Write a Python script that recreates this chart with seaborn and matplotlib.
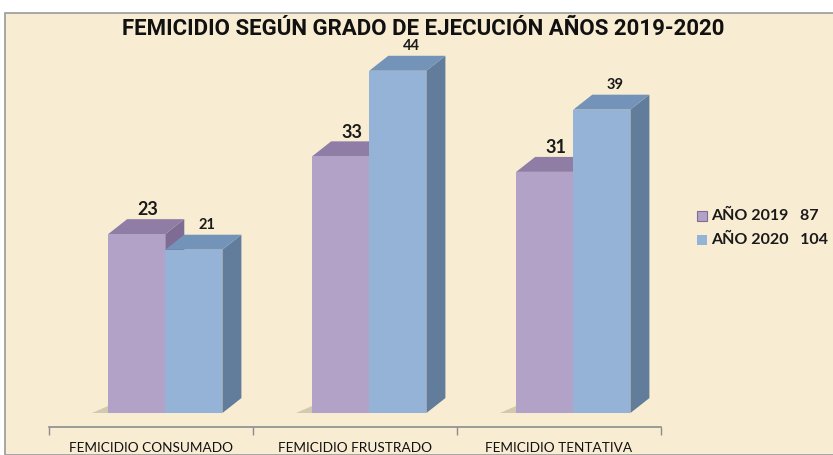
import numpy as np
import pandas as pd
import seaborn as sns
import matplotlib.pyplot as plt
from matplotlib.patches import Polygon, Rectangle

# data
categories = ['FEMICIDIO CONSUMADO', 'FEMICIDIO FRUSTRADO', 'FEMICIDIO TENTATIVA']
years = ['AÑO 2019', 'AÑO 2020']
values_2019 = [23, 33, 31]
values_2020 = [21, 44, 39]

front = {'AÑO 2019': '#B3A2C7', 'AÑO 2020': '#95B3D7'}
topc = {'AÑO 2019': '#8F7DA5', 'AÑO 2020': '#7393B8'}
sidec = {'AÑO 2019': '#7E6C94', 'AÑO 2020': '#627C9C'}
bg = '#F8EDD3'

df = pd.DataFrame({
    'cat': categories * 2,
    'year': [years[0]] * 3 + [years[1]] * 3,
    'val': values_2019 + values_2020,
})

sns.set_theme(style='white')
plt.rcParams['font.family'] = ['Lato', 'DejaVu Sans']

fig = plt.figure(figsize=(8.33, 4.55), dpi=100)
fig.patch.set_facecolor('white')
fig.patches.append(Rectangle((5 / 833, 0), 1, 1 - 13 / 455, transform=fig.transFigure,
                             facecolor=bg, edgecolor='#9A9A9A', lw=1.2, zorder=-5))

ax = fig.add_axes([49 / 833, 1 - 427 / 455, 612 / 833, (427 - 45) / 455])
ax.set_facecolor('none')
sns.barplot(data=df, x='cat', y='val', hue='year', hue_order=years,
            palette=front, width=0.56, saturation=1, ax=ax, legend=False,
            edgecolor='none', linewidth=0, zorder=3)

ax.set_xlim(-0.5, 2.5)
ax.set_ylim(-14 / 7.8, (414 - 45) / 7.8)

# depth in data units (about 19 px right, 15 px up)
dx = 19 / 204
dy = 15 / 7.8
shift = 0.07

for i, yr in enumerate(years):
    cont = ax.containers[i]
    vals = values_2019 if i == 0 else values_2020
    for bar, v in zip(cont, vals):
        bar.set_x(bar.get_x() + shift)
        x0, w, h = bar.get_x(), bar.get_width(), bar.get_height()
        x1 = x0 + w
        ax.add_patch(Polygon([(x0, h), (x1, h), (x1 + dx, h + dy), (x0 + dx, h + dy)],
                             closed=True, facecolor=topc[yr], edgecolor='none', zorder=2.9))
        ax.add_patch(Polygon([(x1, 0), (x1 + dx, dy), (x1 + dx, h + dy), (x1, h)],
                             closed=True, facecolor=sidec[yr], edgecolor='none', zorder=2.8))
        if i == 0:
            ax.text(x0 + w / 2 + dx * 0.6, h + dy + 0.1, str(v), ha='center', va='bottom',
                    fontsize=13, fontweight='bold', color='#1a1a1a', zorder=5)
            # soft shadow at the foot of the bar
            ax.add_patch(Polygon([(x0 - 0.08, 0), (x0, 0), (x0, 0.9)], closed=True,
                                 facecolor='#8E8674', edgecolor='none', alpha=0.35, zorder=2))
        else:
            ax.text(x0 + w / 2 + dx * 0.7, h + dy + 0.3, str(v), ha='center', va='bottom',
                    fontsize=10.5, fontweight='bold', color='#1a1a1a', zorder=5)

for s in ['top', 'right', 'left']:
    ax.spines[s].set_visible(False)
ax.spines['bottom'].set_color('#8C8C8C')
ax.spines['bottom'].set_linewidth(1.2)
ax.set_yticks([])
ax.set_xticks([-0.5, 0.5, 1.5, 2.5])
ax.set_xticklabels([])
ax.set_xticks([0, 1, 2], minor=True)
ax.set_xticklabels(categories, minor=True, fontsize=9.8, color='#111111')
ax.tick_params(axis='x', which='major', direction='out', length=6, width=1, color='#8C8C8C', bottom=True)
ax.tick_params(axis='x', which='minor', length=0, pad=11)
ax.set_xlabel('')
ax.set_ylabel('')

fig.text(423 / 833, 1 - 29 / 455, 'FEMICIDIO SEGÚN GRADO DE EJECUCIÓN AÑOS 2019-2020',
         ha='center', va='center', fontsize=16, fontweight='bold', color='#111111',
         family=['Liberation Sans Narrow', 'Roboto', 'DejaVu Sans'])

totals = [sum(values_2019), sum(values_2020)]
for k, (yr, tot) in enumerate(zip(years, totals)):
    yy = 1 - (216 + 24 * k) / 455
    fig.patches.append(Rectangle((697 / 833, yy - 5 / 455), 10 / 833, 10 / 455, transform=fig.transFigure,
                                 facecolor=front[yr], edgecolor=sidec[yr] if k == 0 else 'none', lw=0.8))
    fig.text(711 / 833, yy, f'{yr}   {tot}', ha='left', va='center', fontsize=11.5,
             fontweight='bold', color='#1a1a1a')

fig.savefig('out.png', dpi=100, facecolor=fig.get_facecolor())
